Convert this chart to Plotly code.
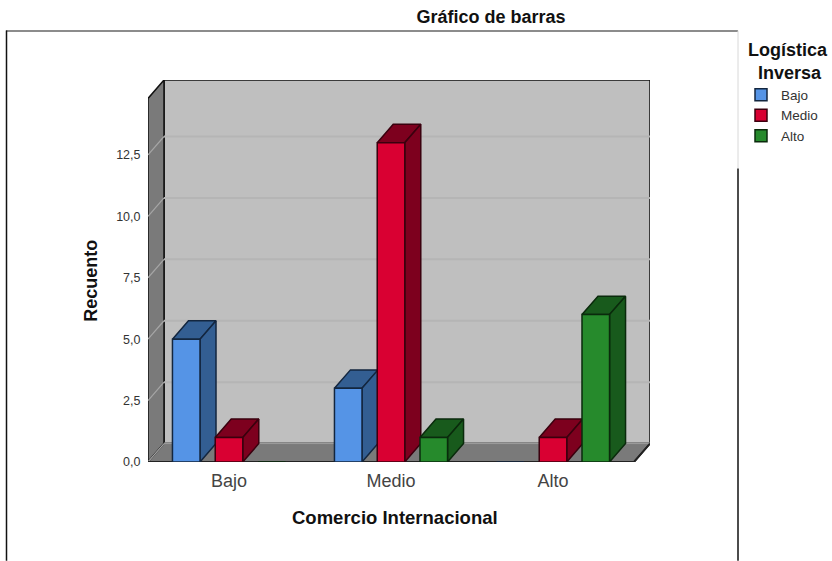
import plotly.graph_objects as go

# ---- data ----
categories = ["Bajo", "Medio", "Alto"]
series_names = ["Bajo", "Medio", "Alto"]
bajo_values = [5, 3, 0]
medio_values = [1, 13, 1]
alto_values = [0, 1, 6]
y_ticks = [0, 2.5, 5, 7.5, 10, 12.5]

# ---- style ----
FONT = "Liberation Sans"
front_colors = ["#5594E6", "#D90032", "#268A2C"]
shade_colors = ["#335E92", "#7D001E", "#185A1C"]
edge_colors = ["#13263F", "#3A000E", "#0A2A0C"]
WALL, SIDE, GRID, GRID_SIDE = "#BFBFBF", "#7A7A7A", "#B5B5B5", "#A6A6A6"
W, H = 832, 561
L, R, T, B = 148, 650, 79.5, 462
DX, DY = 16 / 162, 0.75          # depth of the 3-D box in axis units
X0, X1 = -0.5, 2.5
YF = 14.8                        # top of the front plane
BAR_W, SLOT = 0.17, 0.264
xr = [X0, X1 + DX]
yr = [0, YF + DY]


def px(x):
    return (x - L) / (R - L)


def py(y):
    return (B - y) / (B - T)


fig = go.Figure()


def poly(xs, ys, fill, line="#111111", width=1.5):
    fig.add_trace(go.Scatter(
        x=xs + xs[:1], y=ys + ys[:1], mode="lines", fill="toself", fillcolor=fill,
        line=dict(color=line, width=width), showlegend=False, hoverinfo="skip"))


def seg(xs, ys, color, width=1.5):
    fig.add_trace(go.Scatter(x=xs, y=ys, mode="lines", line=dict(color=color, width=width),
                             showlegend=False, hoverinfo="skip"))


# back wall, left wall, grid lines, floor
poly([X0 + DX, X1 + DX, X1 + DX, X0 + DX], [DY, DY, YF + DY, YF + DY], WALL)
poly([X0, X0 + DX, X0 + DX, X0], [0, DY, YF + DY, YF], SIDE)
for t in y_ticks[1:]:
    seg([X0 + DX, X1 + DX], [t + DY, t + DY], GRID, 2)
    seg([X0, X0 + DX], [t, t + DY], GRID_SIDE, 1.2)
poly([X0, X1, X1 + DX, X0 + DX], [0, 0, DY, DY], SIDE)
seg([X0 + DX, X1 + DX], [DY, DY], "#9A9A9A", 2)
seg([X0, X0 + DX], [0, DY], GRID_SIDE, 1.2)
seg([X0, X1, X1 + DX], [0, 0, DY], "#222222", 2)

# bar top and side faces, computed from the values
all_series = [bajo_values, medio_values, alto_values]
for s, values in enumerate(all_series):
    for c, v in enumerate(values):
        if not v:
            continue
        a = c + (s - 1) * SLOT - BAR_W / 2
        b = a + BAR_W
        poly([a, b, b + DX, a + DX], [v, v, v + DY, v + DY], shade_colors[s], edge_colors[s])
        poly([b, b + DX, b + DX, b], [0, DY, v + DY, v], shade_colors[s], edge_colors[s])

# front faces as real bars on an overlaid axis pair
for s, values in enumerate(all_series):
    fig.add_trace(go.Bar(
        name=series_names[s], x=[0, 1, 2], y=values, xaxis="x2", yaxis="y2",
        marker=dict(color=front_colors[s], line=dict(color=edge_colors[s], width=1.5)),
        hovertemplate="%{y}<extra>" + series_names[s] + "</extra>"))

# outer frame
frame = [((6, 30.5), (738, 30.5), "#8C8C8C", 2), ((6.5, 30), (6.5, 561), "#111111", 1.5),
         ((738, 30), (738, 168), "#D8D8D8", 1), ((738, 168), (738, 561), "#111111", 1.5)]
shapes = [dict(type="line", xref="paper", yref="paper", x0=px(a[0]), y0=py(a[1]), x1=px(b[0]), y1=py(b[1]),
               line=dict(color=c, width=w)) for a, b, c, w in frame]

title_font = dict(size=18, color="#111111")
fig.update_layout(
    width=W, height=H, autosize=False,
    margin=dict(l=L, r=W - R, t=T, b=H - B, autoexpand=False),
    paper_bgcolor="white", plot_bgcolor="white", separators=",.",
    font=dict(family=FONT, color="#333333"),
    barmode="group", bargap=1 - 3 * SLOT, bargroupgap=1 - BAR_W / SLOT,
    shapes=shapes,
    title=dict(text="<b>Gráfico de barras</b>", x=491 / W, xref="container", xanchor="center",
               y=1 - 17 / H, yref="container", yanchor="middle", font=title_font),
    xaxis=dict(range=xr, tickmode="array", tickvals=[0, 1, 2], ticktext=categories, showgrid=False,
               zeroline=False, showline=False, ticks="outside", ticklen=2, tickcolor="rgba(0,0,0,0)",
               tickfont=dict(size=18, color="#444444")),
    yaxis=dict(range=yr, tickmode="array", tickvals=y_ticks, tickformat=".1f", showgrid=False, zeroline=False,
               showline=False, ticks="outside", ticklen=4, tickcolor="rgba(0,0,0,0)",
               tickfont=dict(size=12.5, color="#333333")),
    xaxis2=dict(range=xr, overlaying="x", visible=False),
    yaxis2=dict(range=yr, overlaying="y", visible=False),
    annotations=[
        dict(text="<b>Recuento</b>", textangle=-90, xref="paper", yref="paper", x=px(91), y=py(280.5),
             xanchor="center", yanchor="middle", showarrow=False, font=title_font),
        dict(text="<b>Comercio Internacional</b>", xref="paper", yref="paper", x=px(394.5), y=py(518),
             xanchor="center", yanchor="middle", showarrow=False, font=dict(size=18.5, color="#111111")),
    ],
    legend=dict(x=px(746), y=py(32), xanchor="left", yanchor="top", bgcolor="rgba(0,0,0,0)",
                font=dict(size=13.5, color="#333333"), indentation=-5, traceorder="normal",
                title=dict(text="<b>Logística<br>&nbsp;&nbsp;Inversa</b>", font=title_font)),
)
fig.write_html("out.html", config={"displayModeBar": False},
               post_script="document.body.style.margin='0';")
